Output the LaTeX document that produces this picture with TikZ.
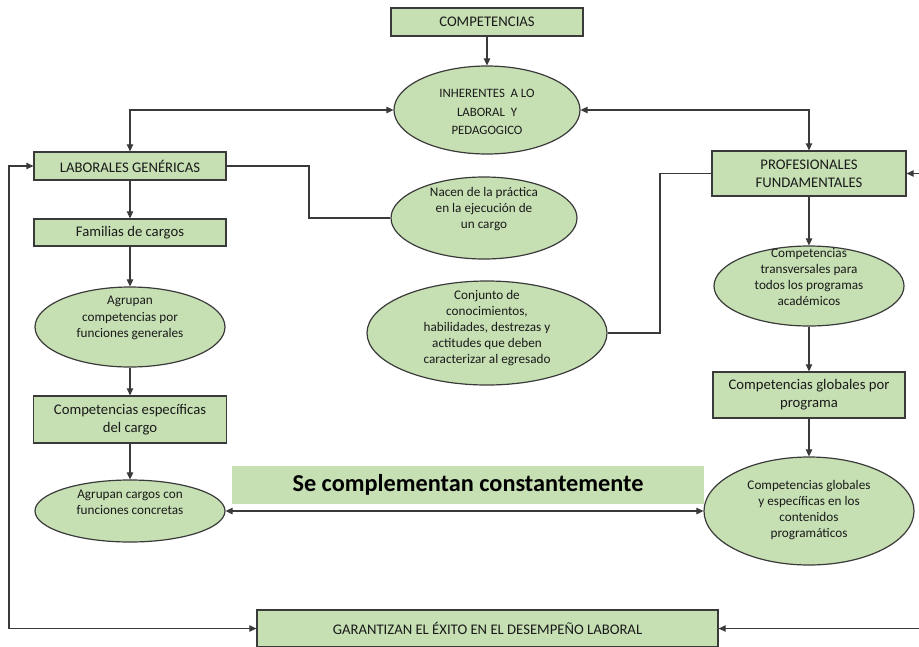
\documentclass[tikz,border=0pt]{standalone}
\usepackage{fontspec}
\setmainfont{Carlito}
\usetikzlibrary{arrows.meta,shapes.geometric}
\definecolor{gfill}{HTML}{C6E0B4}
\definecolor{lcol}{HTML}{3A3A3A}
\definecolor{tcol}{HTML}{1A1A1A}
\begin{document}
\begin{tikzpicture}[x=1pt,y=-1pt,
  box/.style={draw=lcol, line width=1.3pt, fill=gfill, inner sep=0pt, align=center, text=tcol,
    font=\fontsize{14.7}{18}\selectfont},
  ell/.style={ellipse, draw=lcol, line width=1.2pt, fill=gfill, inner sep=0pt},
  etext/.style={align=center, text=tcol, font=\fontsize{13.2}{16.2}\selectfont, inner sep=0pt},
  con/.style={draw=lcol, line width=1.1pt},
  arr/.style={con, -{Triangle[length=7pt,width=6.5pt]}},
  darr/.style={con, {Triangle[length=7pt,width=6.5pt]}-{Triangle[length=7pt,width=6.5pt]}},
]
\useasboundingbox (0,0) rectangle (919,646);

% boxes
\node[box, minimum width=192pt, minimum height=28pt] (comp) at (487,22) {COMPETENCIAS};
\node[box, minimum width=192pt, minimum height=28pt] (lab) at (130,166) {LABORALES GENÉRICAS};
\node[box, minimum width=192pt, minimum height=27pt] (fam) at (130,232.5) {Familias de cargos};
\node[box, minimum width=193pt, minimum height=47pt] (esp) at (130,419.5) {Competencias específicas\\del cargo};
\node[box, minimum width=194pt, minimum height=45pt] (prof) at (809,173.5) {PROFESIONALES\\FUNDAMENTALES};
\node[box, minimum width=192pt, minimum height=46pt] (glob) at (809,395) {Competencias globales por\\programa};
\node[box, minimum width=461pt, minimum height=37pt] (gar) at (487.5,628.5) {GARANTIZAN EL ÉXITO EN EL DESEMPEÑO LABORAL};

% ellipses
\node[ell, minimum width=186pt, minimum height=88pt] (inh) at (487,110) {};
\node[etext, font=\fontsize{12.8}{18.5}\selectfont] (inht) at (487,112) {INHERENTES~ A LO\\LABORAL~ Y\\PEDAGOGICO};
\node[ell, minimum width=186pt, minimum height=82pt] (nac) at (484,218) {};
\node[etext] (nact) at (484,209) {Nacen de la práctica\\en la ejecución de\\un cargo};
\node[ell, minimum width=240pt, minimum height=104pt] (conj) at (487,333) {};
\node[etext] (conjt) at (487,328) {Conjunto de\\conocimientos,\\habilidades, destrezas y\\actitudes que deben\\caracterizar al egresado};
\node[ell, minimum width=190pt, minimum height=80pt] (agr1) at (130,327) {};
\node[etext] (agr1t) at (130,318) {Agrupan\\competencias por\\funciones generales};
\node[ell, minimum width=190pt, minimum height=62pt] (agr2) at (130,511) {};
\node[etext] (agr2t) at (130,502) {Agrupan cargos con\\funciones concretas};
\node[ell, minimum width=190pt, minimum height=80pt] (trans) at (809,286) {};
\node[etext] (transt) at (809,277) {Competencias\\transversales para\\todos los programas\\académicos};
\node[ell, minimum width=210pt, minimum height=108pt] (ge) at (809,511) {};
\node[etext] (get) at (809,510) {Competencias globales\\y específicas en los\\contenidos\\programáticos};

% banner
\node[fill=gfill, minimum width=472pt, minimum height=38pt, inner sep=0pt, text=black,
  font=\bfseries\fontsize{24.3}{28}\selectfont] (sc) at (468,485) {Se complementan constantemente};

% connectors
\draw[arr] (comp.south) -- (inh.north);
\draw[darr] (inh.west) -| (lab.north);
\draw[darr] (inh.east) -| (prof.north);
\draw[con] (lab.east) -- (309,166) |- (nac.west);
\draw[con] (prof.west) -- (660,173.5) |- (conj.east);
\draw[arr] (lab.south) -- (fam.north);
\draw[arr] (fam.south) -- (agr1.north);
\draw[arr] (agr1.south) -- (esp.north);
\draw[arr] (esp.south) -- (agr2.north);
\draw[arr] (prof.south) -- (trans.north);
\draw[arr] (trans.south) -- (glob.north);
\draw[arr] (glob.south) -- (ge.north);
\draw[darr] (agr2.east) -- (ge.west);
\draw[darr] (lab.west) -- (9,166) |- (gar.west);
\draw[darr] (prof.east) -- (930,173.5) |- (gar.east);
\end{tikzpicture}
\end{document}
